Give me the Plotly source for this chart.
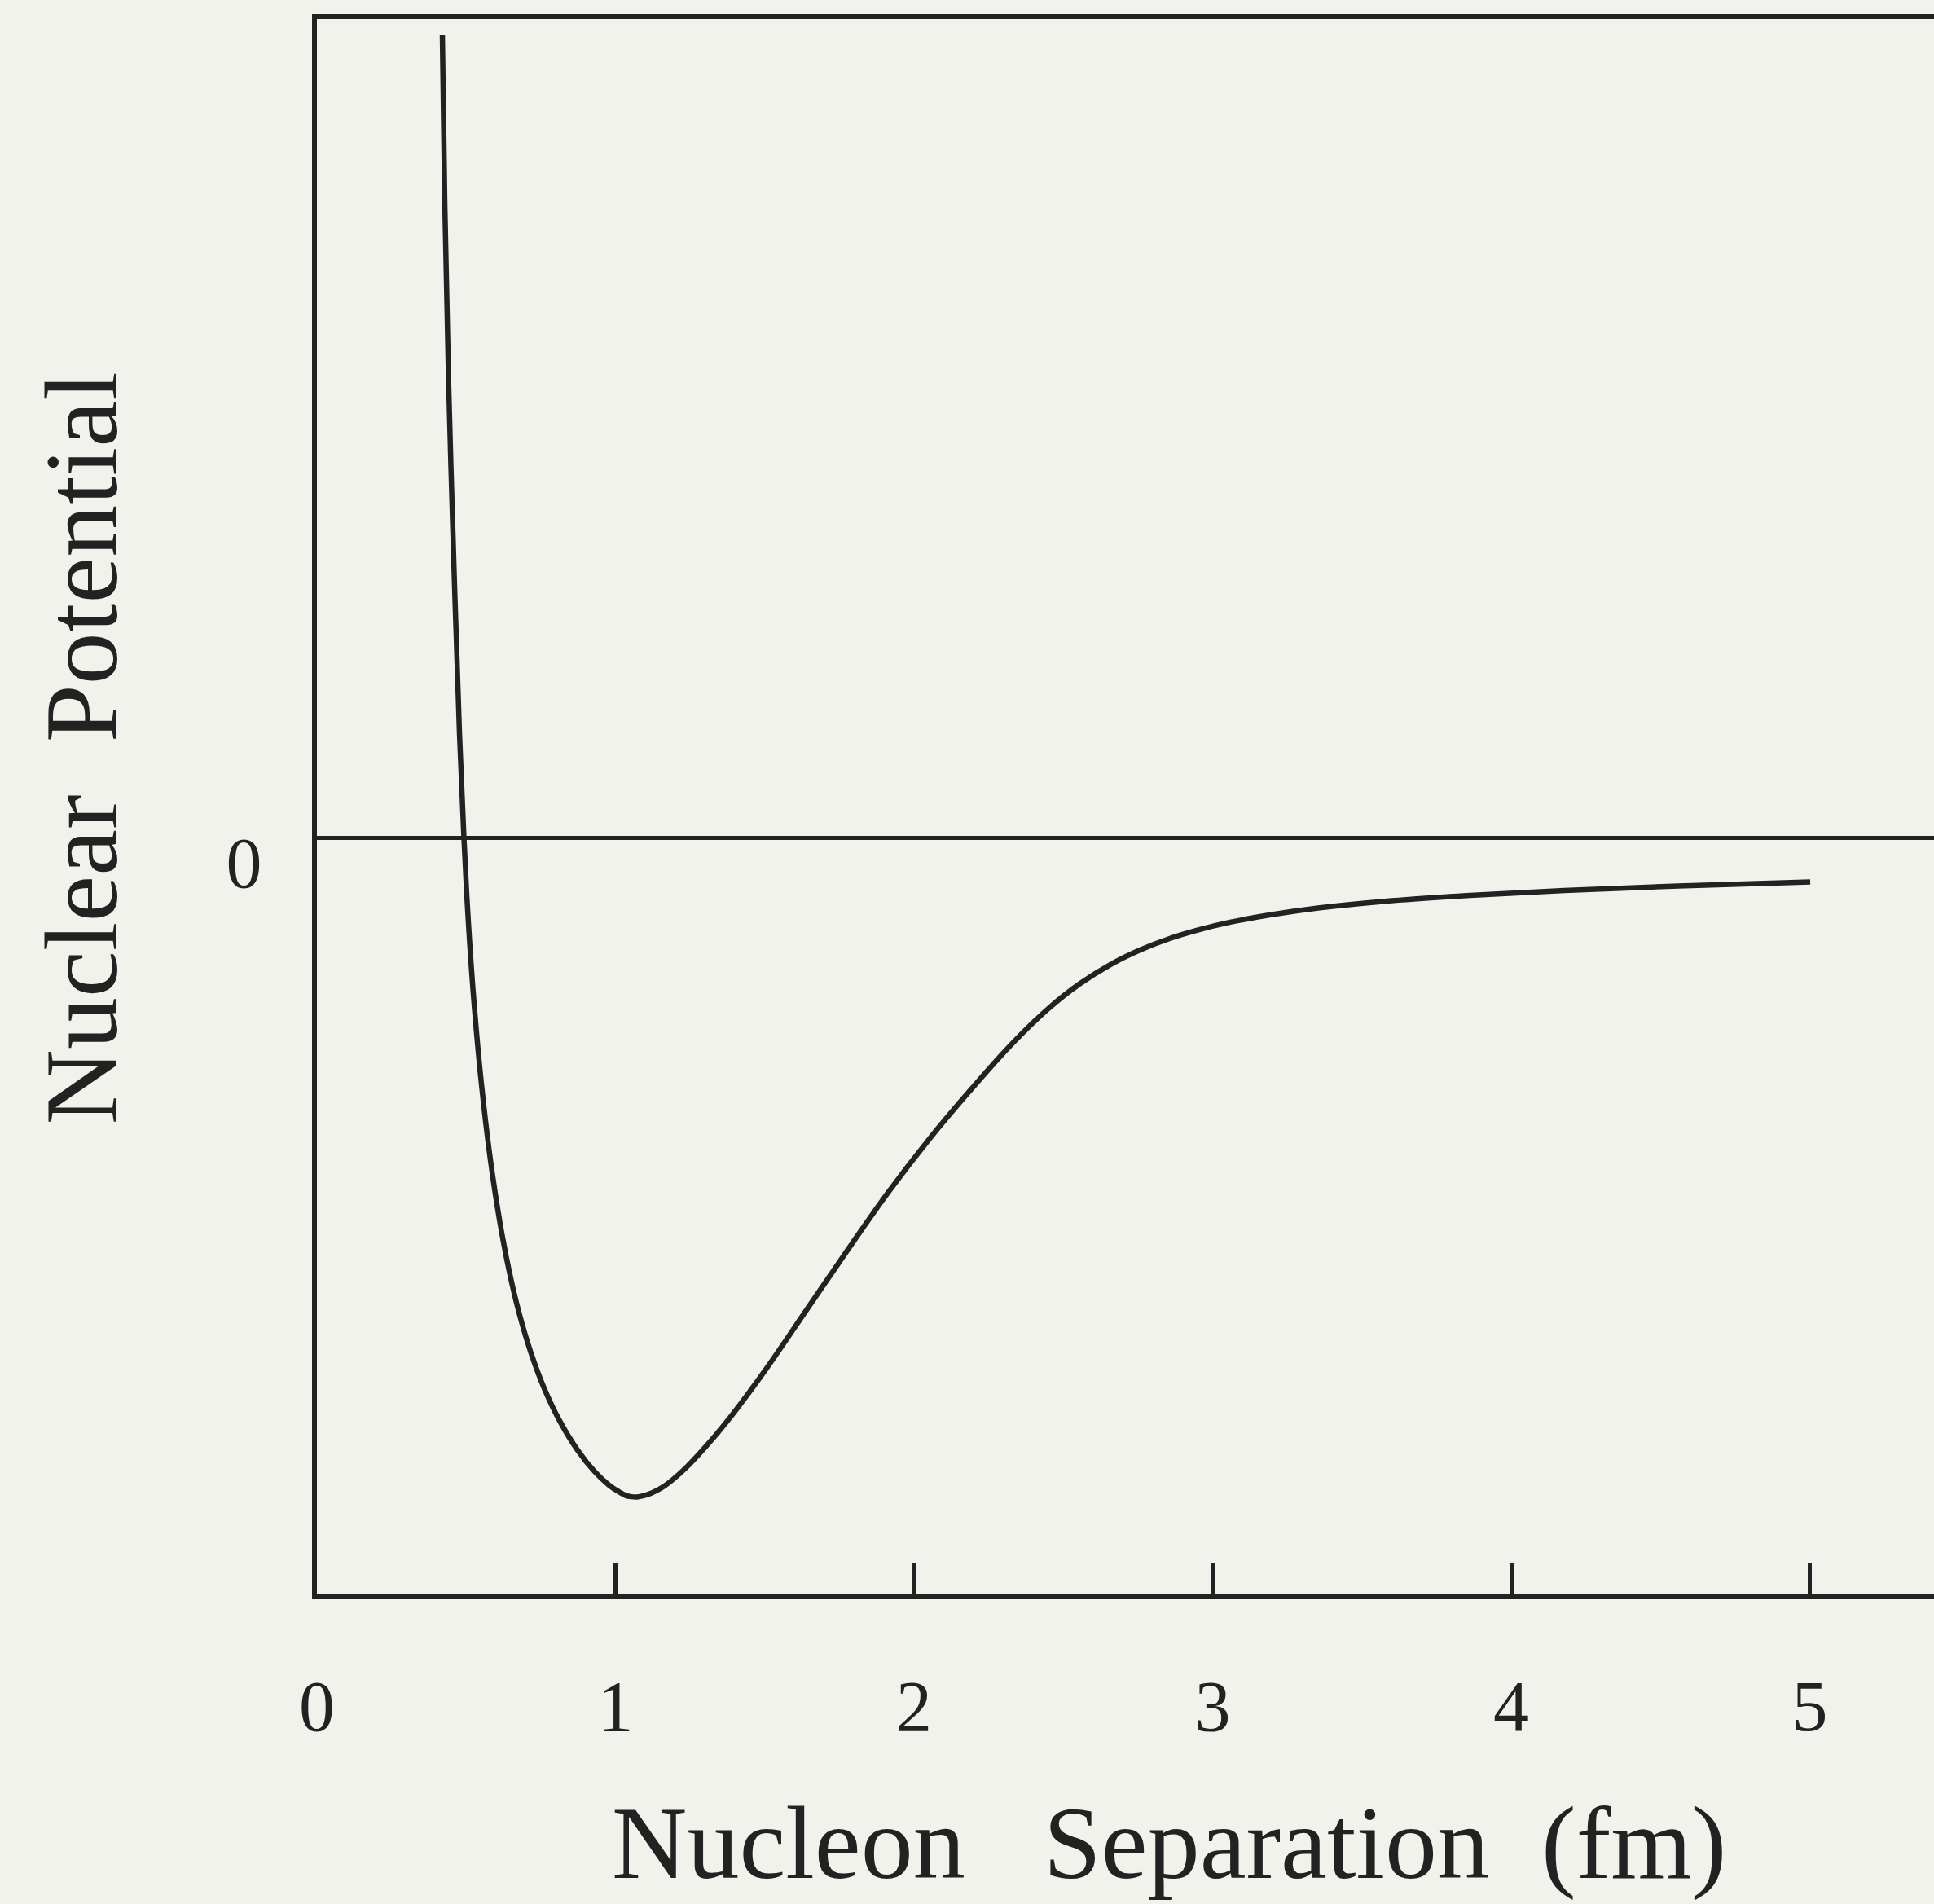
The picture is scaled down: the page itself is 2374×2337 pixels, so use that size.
import plotly.graph_objects as go

# Nucleon separation (fm) and nuclear potential (arbitrary units, 0 = zero line)
separation = [0.4202, 0.4284, 0.4420, 0.4611, 0.4775, 0.4925, 0.5070, 0.5261, 0.5509, 0.5798,
              0.6128, 0.6439, 0.6761, 0.7165, 0.7623, 0.8145, 0.8729, 0.9293, 0.9782, 1.0123,
              1.0341, 1.0532, 1.0723, 1.0941, 1.1214, 1.1623, 1.2306, 1.3124, 1.3943, 1.5034,
              1.6398, 1.7763, 1.9127, 2.0491, 2.1855, 2.3220, 2.4447, 2.5539, 2.6630, 2.7585,
              2.8540, 2.9495, 3.0587, 3.1951, 3.3588, 3.5771, 3.8499, 4.1774, 4.5594, 5.0014]
potential = [6.513, 5.145, 3.626, 2.041, 0.852, 0.000, -0.667, -1.328, -1.988, -2.583,
             -3.111, -3.507, -3.838, -4.168, -4.465, -4.729, -4.960, -5.132, -5.244, -5.299,
             -5.328, -5.338, -5.340, -5.330, -5.307, -5.254, -5.116, -4.904, -4.663, -4.306,
             -3.824, -3.342, -2.873, -2.444, -2.051, -1.681, -1.391, -1.181, -1.016, -0.903,
             -0.814, -0.744, -0.680, -0.619, -0.563, -0.510, -0.464, -0.423, -0.386, -0.353]

x_tickvals = [0, 1, 2, 3, 4, 5]
x_ticktext = ["0", "1", "2", "3", "4", "5"]
y_tickvals = [0]
y_ticktext = ["0"]

x_title = "Nucleon\u00a0\u00a0\u00a0Separation\u00a0\u00a0(fm)"
y_title = "Nuclear\u00a0\u00a0Potential"

INK = "#222222"
BG = "#f2f2ec"
FONT = "Liberation Serif, Times New Roman, serif"

fig = go.Figure()
fig.add_trace(go.Scatter(
    x=separation, y=potential, mode="lines",
    line=dict(color=INK, width=6.5, shape="spline", smoothing=1.0),
    hoverinfo="skip", showlegend=False,
))

fig.update_layout(
    width=2374, height=2337,
    margin=dict(l=389, r=0, t=23, b=380, pad=0),
    paper_bgcolor=BG, plot_bgcolor=BG,
    font=dict(family=FONT, color=INK),
    showlegend=False,
    xaxis=dict(
        range=[0, 5.416], showgrid=False, zeroline=False,
        showline=True, mirror=True, linecolor=INK, linewidth=6,
        tickvals=x_tickvals, ticktext=x_ticktext,
        ticks="inside", ticklen=38, tickwidth=5, tickcolor=INK,
        tickfont=dict(size=88, family=FONT, color=INK),
        ticklabelstandoff=55,
    ),
    yaxis=dict(
        range=[-6.13, 6.645], showgrid=False,
        zeroline=True, zerolinecolor=INK, zerolinewidth=5,
        showline=True, mirror=False, linecolor=INK, linewidth=6,
        tickvals=y_tickvals, ticktext=y_ticktext, ticks="",
        tickfont=dict(size=88, family=FONT, color=INK),
        ticklabelstandoff=44, ticklabelshift=29,
    ),
    annotations=[
        dict(text=x_title, xref="paper", yref="paper", x=0.527, y=-0.1577,
             xanchor="center", yanchor="middle", showarrow=False,
             font=dict(size=128, family=FONT, color=INK)),
        dict(text=y_title, xref="paper", yref="paper", x=-0.1456, y=0.537,
             xanchor="center", yanchor="middle", textangle=-90, showarrow=False,
             font=dict(size=128, family=FONT, color=INK)),
    ],
)

fig.write_html("out.html")
